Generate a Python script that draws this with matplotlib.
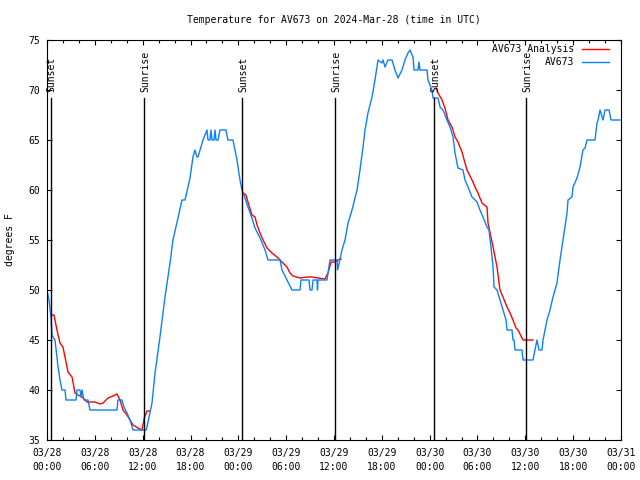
import matplotlib
matplotlib.use('Agg')
import matplotlib.pyplot as plt
from matplotlib.ticker import MultipleLocator

# hours since 2024-03-28 00:00 UTC
blue_h = [0.0, 0.25, 0.5, 0.63, 1.0, 1.25, 1.38, 1.63, 1.88, 2.26, 2.38, 3.64, 3.76, 4.14, 4.27, 4.39, 4.64,
          5.14, 5.39, 8.78, 8.9, 9.4, 9.66, 10.03, 10.41, 10.79, 12.42, 12.54, 13.17, 13.55, 14.17, 14.8,
          15.43, 15.8, 16.43, 16.93, 17.31, 17.94, 18.31, 18.56, 18.81, 18.94, 19.57, 20.07, 20.2, 20.45,
          20.57, 20.7, 20.95, 21.07, 21.2, 21.45, 21.7, 22.45, 22.7, 23.33, 23.83, 24.21, 24.46, 24.83,
          25.21, 25.71, 26.09, 26.72, 27.35, 27.72, 29.23, 29.48, 30.1, 30.73, 31.74, 31.86, 32.86, 32.99,
          33.24, 33.37, 33.87, 33.93, 33.99, 35.12, 35.5, 36.38, 36.45, 37.0, 37.38, 37.76, 38.26, 38.89,
          39.26, 39.64, 39.89, 40.26, 40.77, 41.14, 41.52, 42.02, 42.15, 42.4, 42.77, 43.28, 43.65, 44.03,
          44.53, 44.9, 45.28, 45.53, 45.91, 46.04, 46.54, 46.66, 46.79, 47.67, 47.79, 48.29, 48.42, 49.05,
          49.3, 49.67, 50.17, 50.55, 50.93, 51.18, 51.55, 52.18, 52.43, 52.81, 53.31, 53.94, 54.31, 54.69,
          55.19, 55.44, 55.69, 55.95, 56.07, 56.45, 56.82, 57.2, 57.58, 57.7, 58.33, 58.45, 58.58, 58.71,
          59.58, 59.71, 60.96, 61.21, 61.46, 61.72, 62.09, 62.22, 62.47, 62.72, 63.09, 63.47, 63.97, 64.35,
          64.73, 65.23, 65.35, 65.85, 65.98, 66.48, 66.86, 67.23, 67.49, 67.74, 68.74, 68.99, 69.12, 69.37,
          69.75, 70.0, 70.5, 70.75, 71.88]
blue_t = [50, 49, 47.3, 45.5, 45, 43.3, 42.3, 41, 40, 40, 39, 39, 40, 40, 39.3, 40, 39,
          39, 38, 38, 39, 39, 38.3, 37.7, 37, 36, 36, 36.3, 38.7, 41.7, 45.3, 49.3,
          52.7, 55, 57.2, 59, 59, 61.2, 63.3, 64, 63.3, 63.3, 65, 66, 65, 65,
          66, 65, 65, 66, 65, 65, 66, 66, 65, 65, 63, 61, 60, 59.2,
          58.3, 57.2, 56.2, 55.2, 54, 53, 53, 52, 51, 50, 50, 51, 51, 50,
          50, 51, 51, 50, 51, 51, 53, 53, 52, 54, 55, 56.7, 58, 60,
          62, 64.3, 66, 67.7, 69.3, 71, 73, 72.7, 73, 72.3, 73, 73, 72, 71.2,
          72, 73, 73.7, 74, 73.3, 72, 72, 72.8, 72, 72, 71, 70, 69.2, 69.2,
          68.3, 68, 67, 66.3, 65.3, 63.7, 62.2, 62, 61, 60.3, 59.3, 58.8, 58, 57.3,
          56.3, 56, 54.3, 52.3, 50.3, 50, 49, 48, 47, 46, 46, 45, 45, 44,
          44, 43, 43, 44, 45, 44, 44, 45, 46, 47, 48, 49.3, 50.7, 53,
          55, 57.7, 59, 59.3, 60.3, 61.2, 62.3, 64, 64.2, 65, 65, 66.7, 67, 68,
          67, 68, 68, 67, 67]

# analysis series, three separate pieces
red1_h = [0.63, 0.88, 1.25, 1.63, 2.0, 2.26, 2.63, 3.14, 3.51, 3.89, 4.39, 5.02, 6.02, 6.65, 7.03,
          7.65, 8.28, 8.78, 9.16, 9.53, 10.03, 10.41, 10.79, 11.42, 11.92, 12.2, 12.54, 12.9]
red1_t = [47.5, 47.5, 46, 44.7, 44.3, 43.3, 41.8, 41.3, 39.7, 39.5, 39.3, 38.8, 38.8, 38.6, 38.7,
          39.2, 39.4, 39.6, 39, 38, 37.5, 37, 36.5, 36.2, 36, 37.2, 37.9, 37.9]
red2_h = [24.58, 24.96, 25.21, 25.71, 26.09, 26.35, 26.72, 27.1, 27.6, 28.22, 28.85, 29.23, 29.6,
          30.1, 30.48, 30.86, 31.74, 32.61, 33.24, 33.99, 34.87, 35.25, 35.63, 36.13, 36.5, 36.9]
red2_t = [59.7, 59.5, 58.8, 57.5, 57.3, 56.5, 55.7, 55, 54.2, 53.7, 53.3, 53, 52.7,
          52.3, 51.7, 51.4, 51.2, 51.3, 51.3, 51.2, 51.1, 51.7, 52.8, 52.8, 53, 53.1]
red3_h = [48.8, 49.05, 49.55, 49.92, 50.3, 50.8, 51.18, 51.55, 52.05, 52.68, 53.31, 53.69, 54.06,
          54.56, 55.19, 55.32, 55.69, 55.95, 56.45, 56.82, 57.2, 57.7, 58.08, 58.45, 58.83, 59.08,
          59.58, 59.71, 60.96]
red3_t = [70.2, 69.7, 69, 68.2, 67, 66.3, 65.3, 64.8, 63.8, 62, 61, 60.3, 59.7,
          58.7, 58.3, 56.7, 55.3, 54.3, 52.3, 50, 49.3, 48.3, 47.7, 47, 46.2, 46,
          45.2, 45, 45]

sun_h = [0.46, 12.2, 24.5, 36.15, 48.54, 60.08]
sun_lbl = ['Sunset', 'Sunrise', 'Sunset', 'Sunrise', 'Sunset', 'Sunrise']

xtick_h = list(range(0, 73, 6))
xtick_lbl = ['03/28\n00:00', '03/28\n06:00', '03/28\n12:00', '03/28\n18:00',
             '03/29\n00:00', '03/29\n06:00', '03/29\n12:00', '03/29\n18:00',
             '03/30\n00:00', '03/30\n06:00', '03/30\n12:00', '03/30\n18:00',
             '03/31\n00:00']

plt.rcParams['font.family'] = 'DejaVu Sans Mono'
plt.rcParams['font.size'] = 7

fig = plt.figure(figsize=(6.4, 4.8), dpi=100)
ax = fig.add_axes([47/640, 40/480, 574/640, 400/480])

red = '#ff0000'
blue = '#0a80ff'
ax.plot(red1_h, red1_t, color=red, lw=1, label='AV673 Analysis')
ax.plot(red2_h, red2_t, color=red, lw=1)
ax.plot(red3_h, red3_t, color=red, lw=1)
ax.plot(blue_h, blue_t, color=blue, lw=1, label='AV673')

for h, s in zip(sun_h, sun_lbl):
    ax.plot([h, h], [35, 69.2], color='black', lw=1)
    ax.text(h + 0.15, 69.8, s, rotation=90, ha='center', va='bottom', fontsize=7)

ax.set_xlim(0, 72)
ax.set_ylim(35, 75)
ax.set_xticks(xtick_h)
ax.set_xticklabels(xtick_lbl, linespacing=1.5)
ax.xaxis.set_minor_locator(MultipleLocator(2))
ax.yaxis.set_major_locator(MultipleLocator(5))
ax.tick_params(which='both', direction='in', top=True, right=True, width=0.8)
ax.tick_params(which='major', length=3.5)
ax.tick_params(which='minor', length=2)
ax.tick_params(axis='x', pad=6)
ax.tick_params(axis='y', pad=5)
for sp in ax.spines.values():
    sp.set_linewidth(0.8)

fig.text(334/640, 1 - 20/480, 'Temperature for AV673 on 2024-Mar-28 (time in UTC)',
         ha='center', va='center', fontsize=7)
fig.text(10/640, 0.5, 'degrees F', rotation=90, ha='center', va='center', fontsize=7)

ax.legend(loc='upper right', bbox_to_anchor=(1 - 12/574, 1 - 4/400), borderaxespad=0,
          borderpad=0, frameon=False, markerfirst=False, handlelength=2.8,
          handletextpad=0.8, labelspacing=0.35, fontsize=7)

fig.savefig('out.png', dpi=100)
